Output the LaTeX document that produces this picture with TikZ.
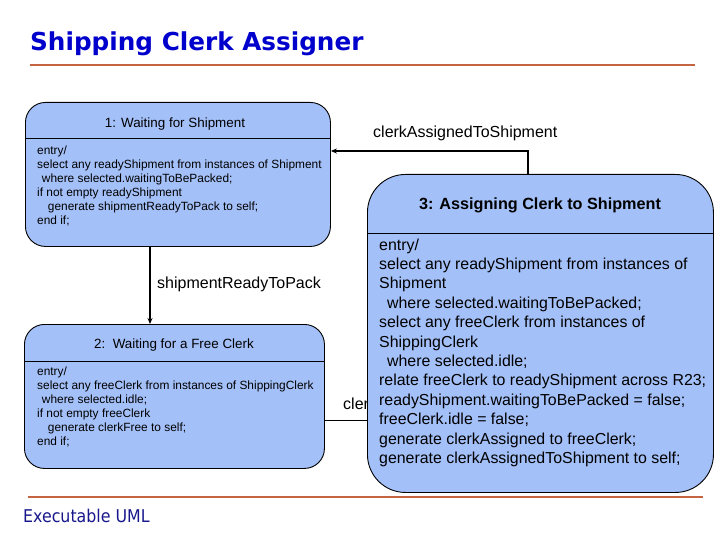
\documentclass[tikz,border=0pt]{standalone}
\usepackage{fontspec}
\setmainfont{Liberation Sans}
\newfontfamily\titlefont{DejaVu Sans}
\newfontfamily\footfont{DejaVu Sans Condensed}
\usetikzlibrary{arrows.meta}
\definecolor{statefill}{RGB}{164,192,248}
\definecolor{rule}{RGB}{196,100,66}
\definecolor{titleblue}{RGB}{0,0,204}
\definecolor{footblue}{RGB}{24,24,140}
\tikzset{
  statebox/.style={draw=black, line width=0.9pt, fill=statefill, rounded corners=#1, inner sep=0pt, anchor=north west},
  statebox/.default=20pt,
  bodytxt/.style={anchor=north west, inner sep=0pt, align=left, font=\fontsize{11.9}{14.1}\selectfont},
  bigtxt/.style={anchor=north west, inner sep=0pt, align=left, font=\fontsize{15.9}{19.4}\selectfont},
  headtxt/.style={anchor=base, inner sep=0pt, font=\fontsize{13.4}{15}\selectfont},
  evlabel/.style={anchor=base west, inner sep=0pt, font=\fontsize{16}{18}\selectfont},
  trans/.style={line width=1.4pt, -{Stealth[length=6pt,width=5pt]}},
  divider/.style={line width=0.9pt},
  rulestyle/.style={draw=rule, line width=2.5pt}
}
\begin{document}
\begin{tikzpicture}[x=1pt,y=-1pt]
\useasboundingbox (0,0) rectangle (720,540);
% title and rules
\node[anchor=base west, inner sep=0pt, text=titleblue, font=\titlefont\bfseries\fontsize{24.7}{28}\selectfont] (title) at (30,51) {Shipping Clerk Assigner};
\coordinate (r1a) at (30,65); \coordinate (r1b) at (695,65);
\draw[rulestyle] (r1a) -- (r1b);
\coordinate (r2a) at (28,497); \coordinate (r2b) at (703,497);
\draw[rulestyle] (r2a) -- (r2b);
\node[anchor=base west, inner sep=0pt, text=footblue, font=\footfont\fontsize{17.6}{20}\selectfont] (foot) at (23,522) {Executable UML};
% state 1
\node[statebox, minimum width=305pt, minimum height=144pt] (s1) at (25,102) {};
\coordinate (s1dl) at (25,138); \coordinate (s1dr) at (330,138);
\draw[divider] (s1dl) -- (s1dr);
\node[headtxt] (s1h) at (175,128) {1: Waiting for Shipment};
\node[bodytxt] (s1b) at (37,145.3) {entry/\\
select any readyShipment from instances of Shipment\\
\hspace*{0.4em}where selected.waitingToBePacked;\\
if not empty readyShipment\\
\hspace*{0.9em}generate shipmentReadyToPack to self;\\
end if;};
% state 2
\node[statebox, minimum width=300pt, minimum height=144pt] (s2) at (24,324) {};
\coordinate (s2dl) at (24,361); \coordinate (s2dr) at (324,361);
\draw[divider] (s2dl) -- (s2dr);
\node[headtxt] (s2h) at (174,348) {2:\ \ Waiting for a Free Clerk};
\node[bodytxt] (s2b) at (37,366.5) {entry/\\
select any freeClerk from instances of ShippingClerk\\
\hspace*{0.4em}where selected.idle;\\
if not empty freeClerk\\
\hspace*{0.9em}generate clerkFree to self;\\
end if;};
% transition 1 -> 2
\draw[trans] (s1.south -| 150,0) -- (s2.north -| 150,0);
\node[evlabel] (l12) at (157,288) {shipmentReadyToPack};
% transition 2 -> 3 (label partly hidden behind state 3)
\node[evlabel] (l23) at (343,409) {clerkFree};
\coordinate (c23) at (370,420);
\draw[line width=0.9pt] (s2.east |- c23) -- (c23);
% state 3
\node[statebox=38pt, minimum width=346pt, minimum height=318pt] (s3) at (367,174) {};
\coordinate (s3dl) at (367,233); \coordinate (s3dr) at (713,233);
\draw[divider] (s3dl) -- (s3dr);
\node[anchor=base, inner sep=0pt, font=\bfseries\fontsize{16.2}{18}\selectfont] (s3h) at (540,210) {3: Assigning Clerk to Shipment};
\node[bigtxt] (s3b) at (379,238.3) {entry/\\
select any readyShipment from instances of\\
Shipment\\
\hspace*{0.5em}where selected.waitingToBePacked;\\
select any freeClerk from instances of\\
ShippingClerk\\
\hspace*{0.5em}where selected.idle;\\
relate freeClerk to readyShipment across R23;\\
readyShipment.waitingToBePacked = false;\\
freeClerk.idle = false;\\
generate clerkAssigned to freeClerk;\\
generate clerkAssignedToShipment to self;};
% transition 3 -> 1
\coordinate (c31) at (528,151);
\draw[trans] (s3.north -| c31) -- (c31) -- (s1.east |- c31);
\node[evlabel] (l31) at (373,138) {clerkAssignedToShipment};
\end{tikzpicture}
\end{document}
